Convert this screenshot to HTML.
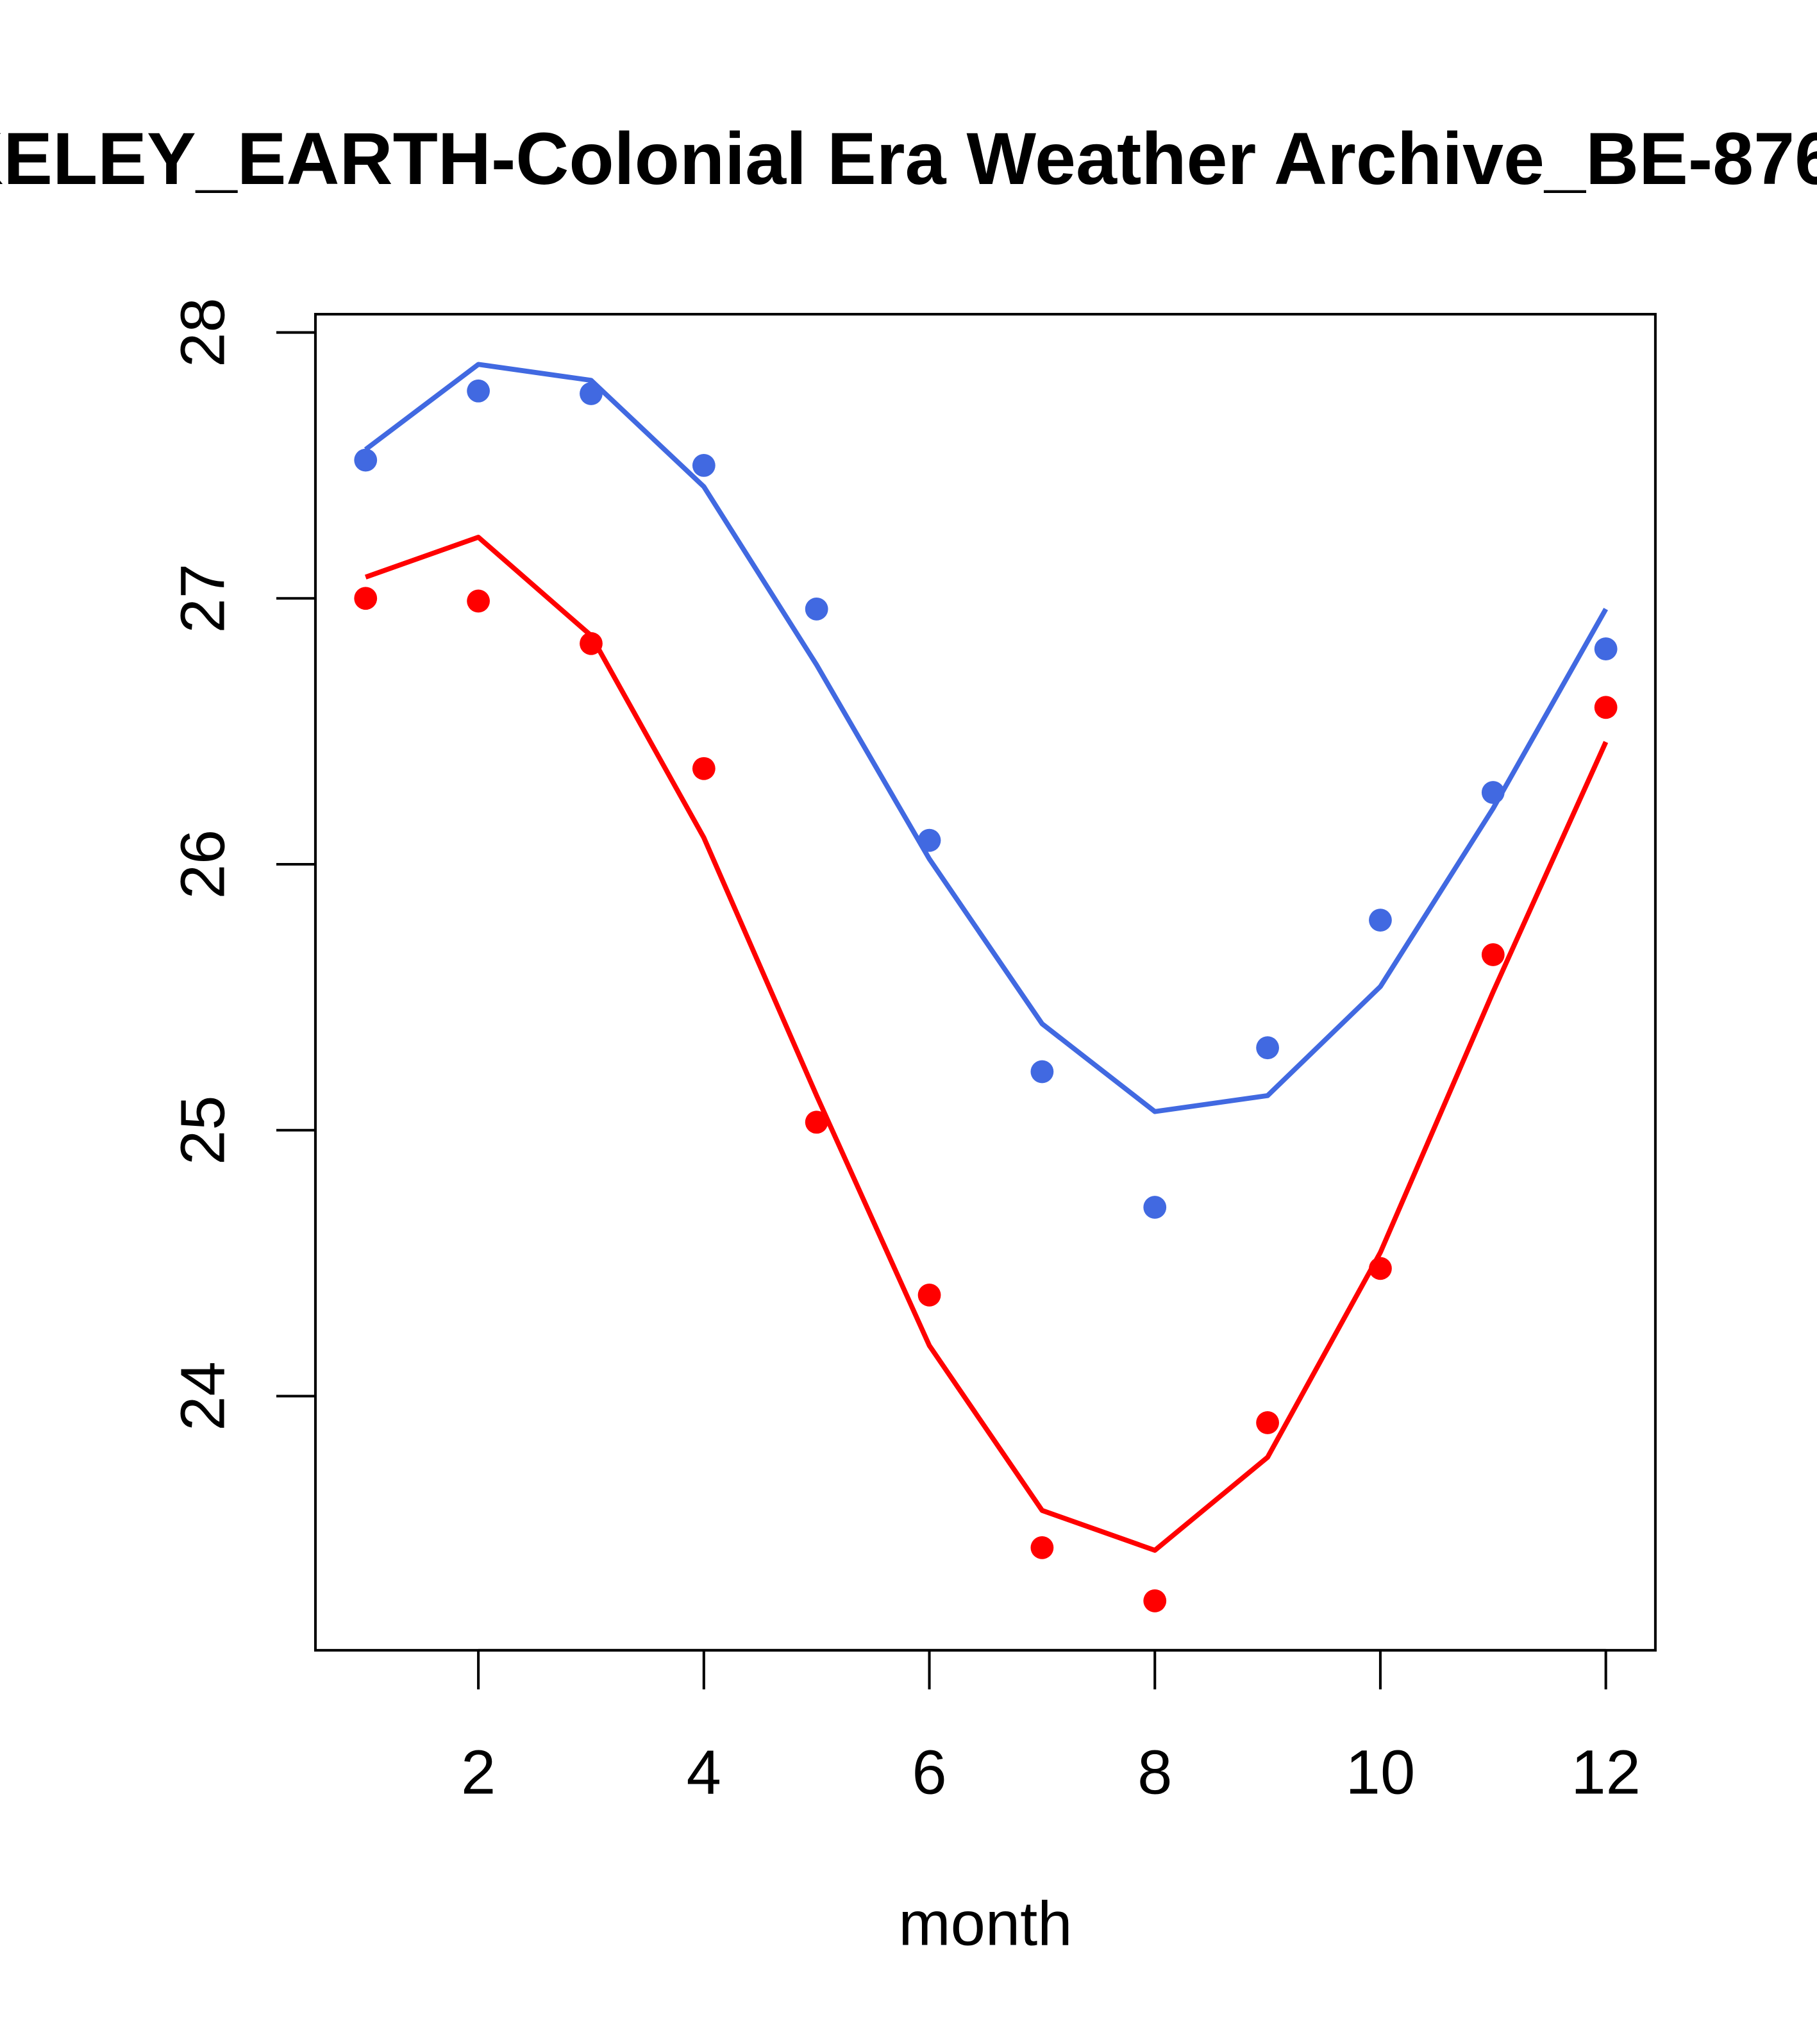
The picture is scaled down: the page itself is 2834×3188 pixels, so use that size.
<!DOCTYPE html>
<html><head><meta charset="utf-8">
<style>
html,body{margin:0;padding:0;background:#fff;}
svg{display:block;}
text{font-family:"Liberation Sans",Arial,sans-serif;}
</style></head>
<body>
<svg id="chart" width="2834" height="3188" viewBox="0 0 1394 1568" xmlns="http://www.w3.org/2000/svg">
<rect width="1394" height="1568" fill="#fff"/>
<text x="641" y="141" text-anchor="middle" font-size="56.6" font-weight="bold">BERKELEY_EARTH-Colonial Era Weather Archive_BE-8763</text>
<rect x="242" y="241" width="1028" height="1025" fill="none" stroke="#000" stroke-width="2"/>
<g id="xaxis"></g>
<g id="yaxis"></g>
<text x="756" y="1492" text-anchor="middle" font-size="48">month</text>
<g id="series"></g>
</svg>
<script>
const months = [1,2,3,4,5,6,7,8,9,10,11,12];
const xTicks = [2,4,6,8,10,12];
const yTicks = [24,25,26,27,28];
const bluePoints = [27.52,27.78,27.77,27.50,26.96,26.09,25.22,24.71,25.31,25.79,26.27,26.81];
const blueLine = [27.56,27.88,27.82,27.42,26.75,26.02,25.40,25.07,25.13,25.54,26.21,26.96];
const redPoints = [27.00,26.99,26.83,26.36,25.03,24.38,23.43,23.23,23.90,24.48,25.66,26.59];
const redLine = [27.08,27.23,26.86,26.10,25.13,24.19,23.57,23.42,23.77,24.54,25.52,26.46];

const NS = "http://www.w3.org/2000/svg";
function xs(m){ return 280.5 + (m-1)*86.5; }
function ys(v){ return 255 + (28-v)*204; }
function mk(tag, attrs, parent){
  const e = document.createElementNS(NS, tag);
  for (const k in attrs) e.setAttribute(k, attrs[k]);
  parent.appendChild(e);
  return e;
}
const xa = document.getElementById('xaxis');
mk('line',{x1:xs(xTicks[0]),x2:xs(xTicks[xTicks.length-1]),y1:1266,y2:1266,stroke:'#000','stroke-width':2},xa);
xTicks.forEach(t=>{
  const l = mk('line',{x1:xs(t),x2:xs(t),y1:1266,y2:1296,stroke:'#000','stroke-width':2},xa);
  
  
  const tx = mk('text',{x:xs(t),y:1376,'text-anchor':'middle','font-size':48},xa);
  
  
  tx.textContent = t;
});
const ya = document.getElementById('yaxis');
mk('line',{x1:242,x2:242,y1:ys(yTicks[0]),y2:ys(yTicks[yTicks.length-1]),stroke:'#000','stroke-width':2},ya);
yTicks.forEach(t=>{
  const l = mk('line',{x1:212,x2:242,y1:ys(t),y2:ys(t),stroke:'#000','stroke-width':2},ya);
  
  
  const tx = mk('text',{x:172,y:ys(t),'text-anchor':'middle','font-size':48,transform:`rotate(-90 172 ${ys(t)})`},ya);
  
  
  tx.textContent = t;
});
const sg = document.getElementById('series');
function drawLine(vals, color, name){
  const p = mk('polyline',{points:vals.map((v,i)=>xs(months[i])+','+ys(v)).join(' '),fill:'none',stroke:color,'stroke-width':3.8,'stroke-linejoin':'round'},sg);
  
  
}
function drawPts(vals, color, name){
  vals.forEach((v,i)=>{
    const c = mk('circle',{cx:xs(months[i]),cy:ys(v),r:8.8,fill:color},sg);
    
    
  });
}
drawLine(blueLine,'#4169E1','blue-fit-line');
drawLine(redLine,'#FF0000','red-fit-line');
drawPts(bluePoints,'#4169E1','blue-point');
drawPts(redPoints,'#FF0000','red-point');
</script>
</body></html>
